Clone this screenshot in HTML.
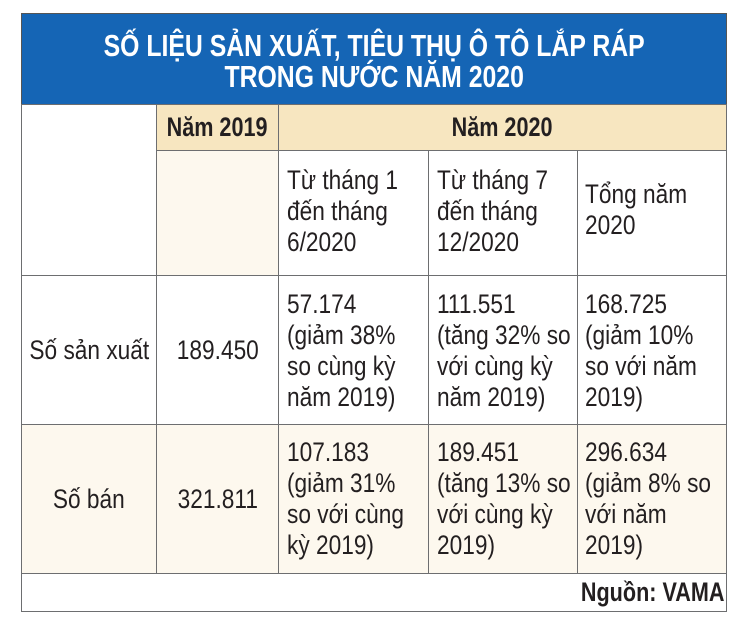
<!DOCTYPE html>
<html><head><meta charset="utf-8">
<style>
body{margin:0;width:748px;height:627px;background:#fff;overflow:hidden;position:relative;font-family:"Liberation Sans",sans-serif;color:#231f20}
.c{position:absolute;box-sizing:border-box;border:1.5px solid #6d6e70;font-size:27px;line-height:31px;white-space:nowrap}
.s{display:inline-block;transform:scaleX(0.84);transform-origin:left top;white-space:nowrap}
.mid .s{transform-origin:center}
#title{position:absolute;left:21px;top:13px;width:706px;height:92px;background:#1565b5;color:#fff;font-weight:bold;font-size:31px;line-height:31px;text-align:center;padding-top:16px;box-sizing:border-box;border:1.5px solid #555;white-space:nowrap}
#title .s{transform:scaleX(0.8);transform-origin:center}
.cream{background:#fdf8ee}.yel{background:#f7e6c0}
.b{font-weight:bold}
.b .s{transform:scaleX(0.8)}
.mid{display:flex;align-items:center;justify-content:center}
</style></head><body>
<div id="title"><span class="s">SỐ LIỆU SẢN XUẤT, TIÊU THỤ Ô TÔ LẮP RÁP<br>TRONG NƯỚC NĂM 2020</span></div>

<div class="c" style="left:21px;top:104px;width:136px;height:172px"></div>
<div class="c yel b mid" style="left:156px;top:104px;width:123px;height:47px"><span class="s">Năm 2019</span></div>
<div class="c yel b mid" style="left:278px;top:104px;width:449px;height:47px"><span class="s">Năm 2020</span></div>
<div class="c cream" style="left:156px;top:150px;width:123px;height:126px"></div>
<div class="c" style="left:278px;top:150px;width:151px;height:126px;padding:14px 0 0 8px"><span class="s">Từ tháng 1<br>đến tháng<br>6/2020</span></div>
<div class="c" style="left:428px;top:150px;width:150px;height:126px;padding:14px 0 0 8px"><span class="s">Từ tháng 7<br>đến tháng<br>12/2020</span></div>
<div class="c" style="left:577px;top:150px;width:150px;height:126px;padding:28px 0 0 7px"><span class="s">Tổng năm<br>2020</span></div>

<div class="c mid" style="left:21px;top:275px;width:136px;height:150px"><span class="s">Số sản xuất</span></div>
<div class="c mid" style="left:156px;top:275px;width:123px;height:150px"><span class="s">189.450</span></div>
<div class="c" style="left:278px;top:275px;width:151px;height:150px;padding:13px 0 0 8px"><span class="s">57.174<br>(giảm 38%<br>so cùng kỳ<br>năm 2019)</span></div>
<div class="c" style="left:428px;top:275px;width:150px;height:150px;padding:13px 0 0 8px"><span class="s">111.551<br>(tăng 32% so<br>với cùng kỳ<br>năm 2019)</span></div>
<div class="c" style="left:577px;top:275px;width:150px;height:150px;padding:13px 0 0 7px"><span class="s">168.725<br>(giảm 10%<br>so với năm<br>2019)</span></div>

<div class="c cream mid" style="left:21px;top:424px;width:136px;height:150px"><span class="s">Số bán</span></div>
<div class="c cream mid" style="left:156px;top:424px;width:123px;height:150px"><span class="s">321.811</span></div>
<div class="c cream" style="left:278px;top:424px;width:151px;height:150px;padding:12px 0 0 8px"><span class="s">107.183<br>(giảm 31%<br>so với cùng<br>kỳ 2019)</span></div>
<div class="c cream" style="left:428px;top:424px;width:150px;height:150px;padding:12px 0 0 8px"><span class="s">189.451<br>(tăng 13% so<br>với cùng kỳ<br>2019)</span></div>
<div class="c cream" style="left:577px;top:424px;width:150px;height:150px;padding:12px 0 0 7px"><span class="s">296.634<br>(giảm 8% so<br>với năm<br>2019)</span></div>

<div class="c b" style="left:21px;top:573px;width:706px;height:39px;text-align:right;padding:3px 2px 0 0"><span class="s" style="transform-origin:right top">Nguồn: VAMA</span></div>
</body></html>
